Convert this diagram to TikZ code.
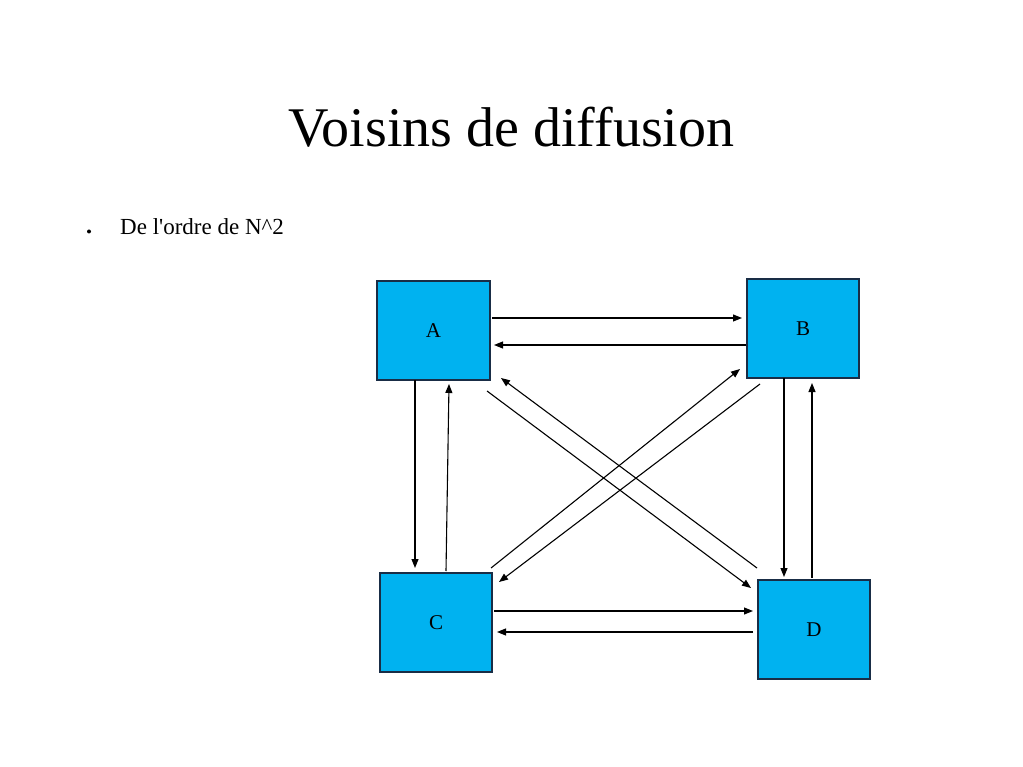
\documentclass[tikz,border=0pt]{standalone}
\usepackage{fontspec}
\setmainfont{Liberation Serif}
\usetikzlibrary{arrows.meta,calc}
\definecolor{boxfill}{RGB}{0,178,240}
\definecolor{boxedge}{RGB}{25,45,70}
\begin{document}
\begin{tikzpicture}[x=1pt,y=-1pt,
  boxnode/.style={draw=boxedge,line width=1.3pt,fill=boxfill,minimum width=112pt,minimum height=99pt,inner sep=0pt,font=\fontsize{21}{24}\selectfont},
  arr/.style={line width=1.1pt,-{Triangle[length=9pt,width=7pt]}}]
\useasboundingbox (0,0) rectangle (1023,767);
\node[anchor=base,font=\fontsize{56}{62}\selectfont] (title) at (511.5,146.7) {Voisins de diffusion};
\fill (89,231.5) circle (2pt);
\node[anchor=base west,inner sep=0pt,font=\fontsize{23}{26}\selectfont] (bul) at (120,234.3) {De l\textquotesingle ordre de N\textasciicircum 2};
\node[boxnode,minimum width=113pt] (A) at (433.5,330.5) {A};
\node[boxnode] (B) at (803,328.5) {B};
\node[boxnode] (C) at (436,622.5) {C};
\node[boxnode] (D) at (814,629.5) {D};
% A <-> B
\draw[arr] ([shift={(58.5,-12.5)}]A.center) -- ([shift={(-61,-10.5)}]B.center);
\draw[arr] ([shift={(-57,16.5)}]B.center) -- ([shift={(60.5,14.5)}]A.center);
% A <-> C
\draw[arr] ([shift={(-18.5,49.5)}]A.center) -- ([shift={(-21,-54.5)}]C.center);
\draw[arr] ([shift={(10,-51.5)}]C.center) -- ([shift={(15.5,53.5)}]A.center);
% A <-> D
\draw[arr] ([shift={(53.5,60.5)}]A.center) -- ([shift={(-63,-41.5)}]D.center);
\draw[arr] ([shift={(-57,-61.5)}]D.center) -- ([shift={(67.5,47.5)}]A.center);
% C <-> B
\draw[arr] ([shift={(55,-54.5)}]C.center) -- ([shift={(-63,40.5)}]B.center);
\draw[arr] ([shift={(-43,55.5)}]B.center) -- ([shift={(63,-40.5)}]C.center);
% B <-> D
\draw[arr] ([shift={(-19,49.5)}]B.center) -- ([shift={(-30,-52.5)}]D.center);
\draw[arr] ([shift={(-2,-51.5)}]D.center) -- ([shift={(9,54.5)}]B.center);
% C <-> D
\draw[arr] ([shift={(58,-11.5)}]C.center) -- ([shift={(-61,-18.5)}]D.center);
\draw[arr] ([shift={(-61,2.5)}]D.center) -- ([shift={(61,9.5)}]C.center);
\end{tikzpicture}
\end{document}
